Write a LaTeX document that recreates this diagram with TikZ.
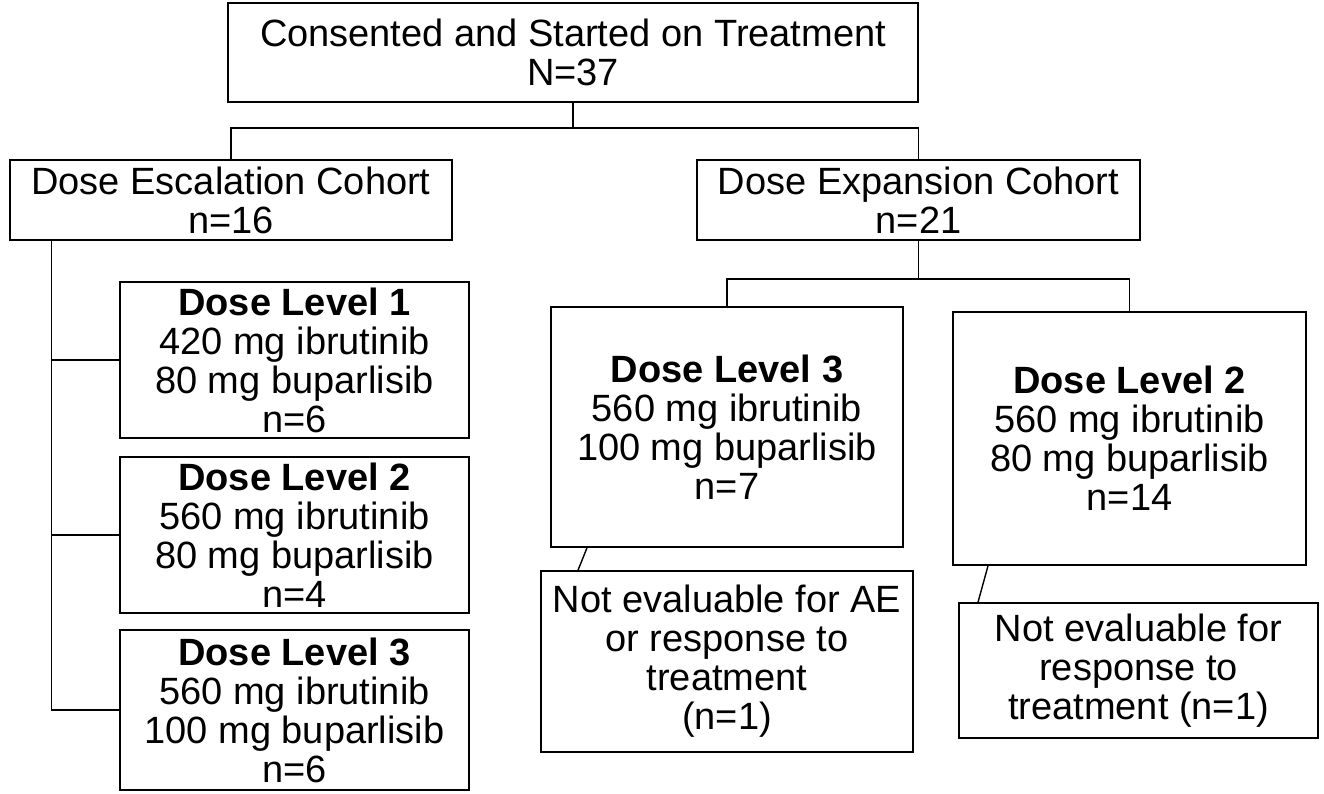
\documentclass[tikz,border=0pt]{standalone}
\usepackage{fontspec}
\setmainfont{Liberation Sans}

\begin{document}
\begin{tikzpicture}[x=1pt, y=-1pt, line width=1.6pt,
    box/.style={draw, align=center, inner sep=0pt, font=\fontsize{38}{39}\selectfont},
    link/.style={line width=1.4pt}]

    \useasboundingbox (0,0) rectangle (1324,793);

    \node[box, minimum width=690pt, minimum height=99pt] (start) at (573,52.5) {Consented and Started on Treatment\\N=37};

    \node[box, minimum width=442pt, minimum height=80pt] (esc) at (231,200) {Dose Escalation Cohort\\n=16};
    \node[box, minimum width=443pt, minimum height=80pt] (exp) at (918.5,200) {Dose Expansion Cohort\\n=21};

    % escalation arm
    \node[box, minimum width=349pt, minimum height=156pt] (esclvl1) at (294.5,360) {\textbf{Dose Level 1}\\420 mg ibrutinib\\80 mg buparlisib\\n=6};
    \node[box, minimum width=349pt, minimum height=156pt] (esclvl2) at (294.5,535) {\textbf{Dose Level 2}\\560 mg ibrutinib\\80 mg buparlisib\\n=4};
    \node[box, minimum width=349pt, minimum height=160pt] (esclvl3) at (294.5,710) {\textbf{Dose Level 3}\\560 mg ibrutinib\\100 mg buparlisib\\n=6};

    % expansion arm
    \node[box, minimum width=352pt, minimum height=240pt] (explvl3) at (727,427) {\textbf{Dose Level 3}\\560 mg ibrutinib\\100 mg buparlisib\\n=7};
    \node[box, minimum width=353pt, minimum height=253pt] (explvl2) at (1129.5,438.5) {\textbf{Dose Level 2}\\560 mg ibrutinib\\80 mg buparlisib\\n=14};

    \node[box, minimum width=372pt, minimum height=181pt] (noteval3) at (727,661.5) {Not evaluable for AE\\or response to\\treatment\\(n=1)};
    \node[box, minimum width=359pt, minimum height=135pt] (noteval2) at (1138.5,670.5) {Not evaluable for\\response to\\treatment (n=1)};

    \coordinate (split) at (573,128);
    \coordinate (expsplit) at (918.5,279);
    \coordinate (spine) at ([xshift=42pt]esc.south west);

    \draw[link] (start.south) -- (split);
    \draw[link] (esc.north) |- (split) -| (exp.north);

    \draw[link] (spine) |- (esclvl3.west);
    \draw[link] (spine |- esclvl1.west) -- (esclvl1.west);
    \draw[link] (spine |- esclvl2.west) -- (esclvl2.west);

    \draw[link] (exp.south) -- (expsplit);
    \draw[link] (explvl3.north) |- (expsplit) -| (explvl2.north);

    \draw[link] ([xshift=-140pt]explvl3.south) -- ([xshift=-149pt]noteval3.north);
    \draw[link] ([xshift=-141.5pt]explvl2.south) -- ([xshift=-160.5pt]noteval2.north);

\end{tikzpicture}
\end{document}
